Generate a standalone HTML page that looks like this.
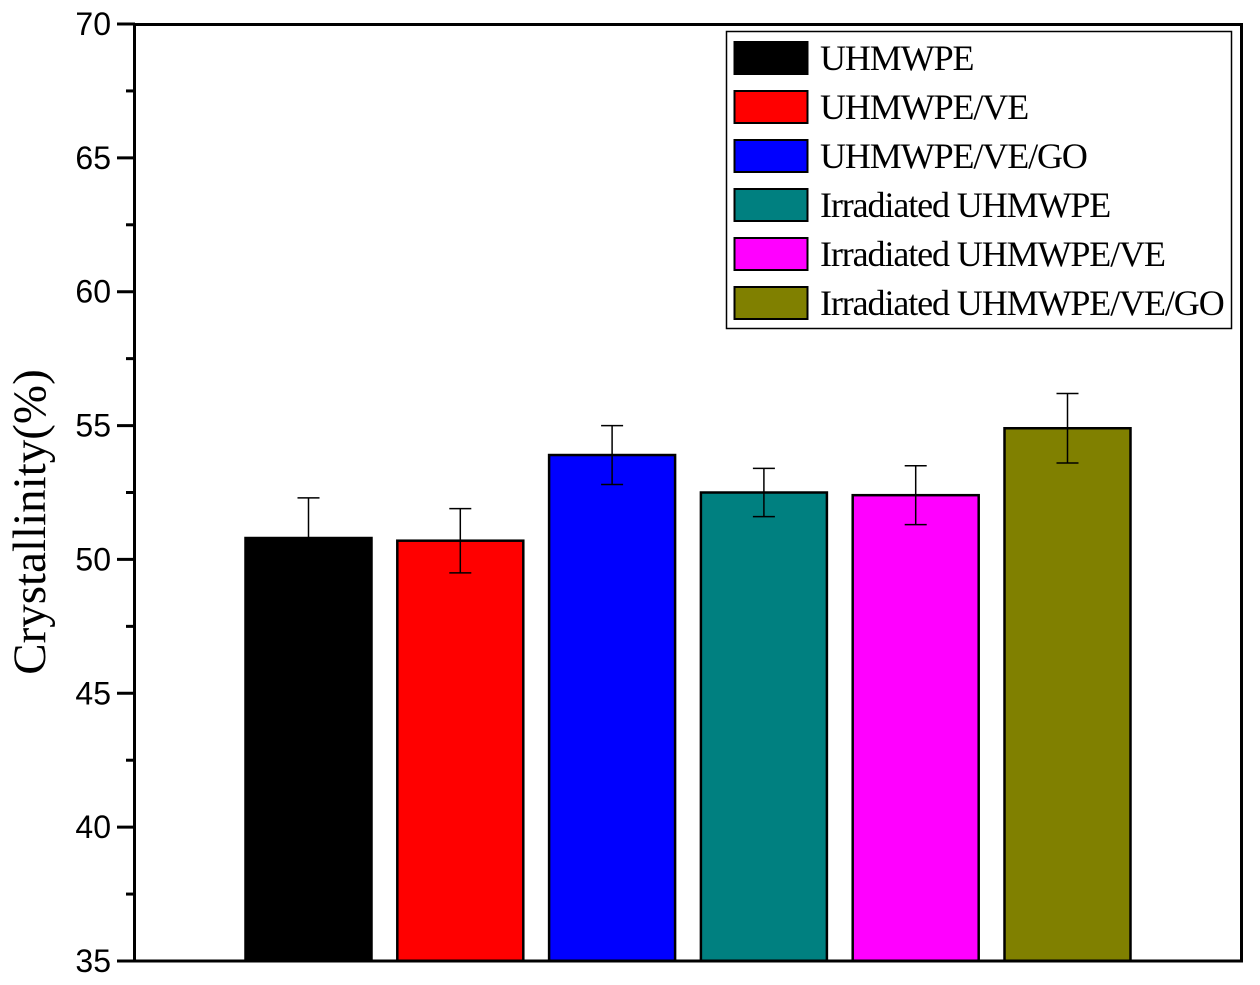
<!DOCTYPE html>
<html><head><meta charset="utf-8"><style>
html,body{margin:0;padding:0;background:#fff;width:1260px;height:985px;overflow:hidden}
svg{display:block}
</style></head><body>
<svg id="chart" width="1260" height="985" xmlns="http://www.w3.org/2000/svg">
<g id="bars"></g>
<g id="errs"></g>
<g id="axis"></g>
<rect x="134.5" y="24.5" width="1107" height="936.5" fill="none" stroke="#000" stroke-width="3"/>
<text x="0" y="0" transform="translate(45,522) rotate(-90)" text-anchor="middle" font-family="Liberation Serif, serif" font-size="47">Crystallinity(%)</text>
<g id="legend">
<rect x="726.5" y="31.5" width="505" height="297" fill="#fff" stroke="#000" stroke-width="1.5"/>
</g>
</svg>
<script>
const categories = ["UHMWPE","UHMWPE/VE","UHMWPE/VE/GO","Irradiated UHMWPE","Irradiated UHMWPE/VE","Irradiated UHMWPE/VE/GO"];
const values = [50.8, 50.7, 53.9, 52.5, 52.4, 54.9];
const errors = [1.5, 1.2, 1.1, 0.9, 1.1, 1.3];
const colors = ["#000000","#ff0000","#0000ff","#008080","#ff00ff","#808000"];
const yTicks = [35,40,45,50,55,60,65,70];
const yMin = 35, yMax = 70;
const NS = "http://www.w3.org/2000/svg";
function y(v){ return 961 - (v - yMin) / (yMax - yMin) * 937; }
function xCenter(i){ return 308.5 + i * 151.8; }
function mk(tag, attrs, parent){ const e=document.createElementNS(NS,tag); for(const k in attrs) e.setAttribute(k,attrs[k]); parent.appendChild(e); return e; }
const bars=document.getElementById('bars'), errs=document.getElementById('errs'), axis=document.getElementById('axis'), legend=document.getElementById('legend');
const bw = 126;
categories.forEach((c,i)=>{
  const cx=xCenter(i);
  const r=mk('rect',{x:cx-bw/2,y:y(values[i]),width:bw,height:961-y(values[i]),fill:colors[i],stroke:'#000','stroke-width':2.5},bars);
  
  
  const g=mk('g',{stroke:'#000','stroke-width':1.5},errs);
  
  
  const yt=y(values[i]+errors[i]), yb=y(values[i]-errors[i]);
  mk('line',{x1:cx,x2:cx,y1:yt,y2:yb},g);
  mk('line',{x1:cx-11,x2:cx+11,y1:yt,y2:yt},g);
  mk('line',{x1:cx-11,x2:cx+11,y1:yb,y2:yb},g);
  const ly=58+i*49;
  const sw=mk('rect',{x:734.5,y:ly-16,width:73,height:32,fill:colors[i],stroke:'#000','stroke-width':2},legend);
  
  
  const t=mk('text',{x:820,y:ly+12,'font-family':'Liberation Serif, serif','font-size':36,'letter-spacing':'-1.1'},legend);
  t.textContent=c;
  
  
});
yTicks.forEach((v,i)=>{
  const ty=y(v);
  mk('line',{x1:117,x2:135,y1:ty,y2:ty,stroke:'#000','stroke-width':3},axis);
  const t=mk('text',{x:111,y:ty+11,'text-anchor':'end','font-family':'Liberation Sans, sans-serif','font-size':32},axis);
  t.textContent=v;
  
  
  if(i<yTicks.length-1){
    const my=y(v+2.5);
    mk('line',{x1:126,x2:135,y1:my,y2:my,stroke:'#000','stroke-width':3},axis);
  }
});
</script>
</body></html>
